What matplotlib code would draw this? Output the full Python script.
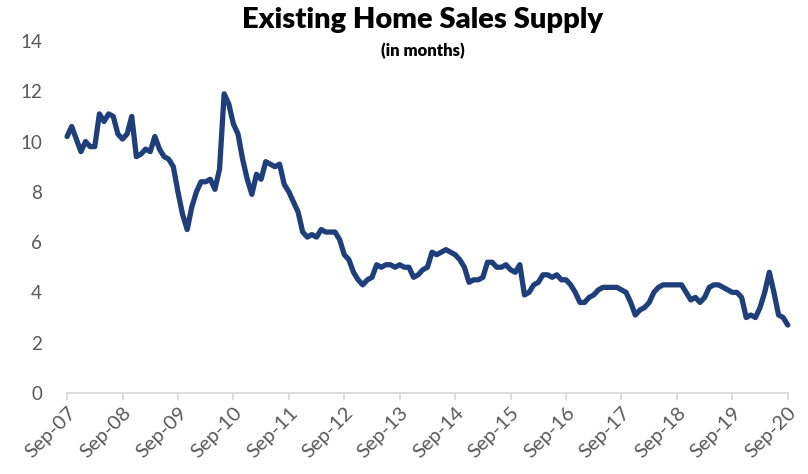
import numpy as np
import matplotlib.pyplot as plt

plt.rcParams['font.family'] = ['Lato', 'DejaVu Sans']

# monthly months-of-supply, Sep-07 .. Sep-20
supply = [
    10.2, 10.6, 10.1, 9.6, 10.0, 9.8, 9.8, 11.1, 10.8, 11.1, 11.0, 10.3,   # Sep-07..Aug-08
    10.1, 10.3, 11.0, 9.4, 9.5, 9.7, 9.6, 10.2, 9.7, 9.4, 9.3, 9.0,         # Sep-08..Aug-09
    8.0, 7.1, 6.5, 7.4, 8.0, 8.4, 8.4, 8.5, 8.1, 8.9, 11.9, 11.5,           # Sep-09..Aug-10
    10.7, 10.3, 9.3, 8.5, 7.9, 8.7, 8.5, 9.2, 9.1, 9.0, 9.1, 8.3,           # Sep-10..Aug-11
    8.0, 7.6, 7.2, 6.4, 6.2, 6.3, 6.2, 6.5, 6.4, 6.4, 6.4, 6.1,             # Sep-11..Aug-12
    5.5, 5.3, 4.8, 4.5, 4.3, 4.5, 4.6, 5.1, 5.0, 5.1, 5.1, 5.0,             # Sep-12..Aug-13
    5.1, 5.0, 5.0, 4.6, 4.7, 4.9, 5.0, 5.6, 5.5, 5.6, 5.7, 5.6,             # Sep-13..Aug-14
    5.5, 5.3, 5.0, 4.4, 4.5, 4.5, 4.6, 5.2, 5.2, 5.0, 5.0, 5.1,             # Sep-14..Aug-15
    4.9, 4.8, 5.1, 3.9, 4.0, 4.3, 4.4, 4.7, 4.7, 4.6, 4.7, 4.5,             # Sep-15..Aug-16
    4.5, 4.3, 4.0, 3.6, 3.6, 3.8, 3.9, 4.1, 4.2, 4.2, 4.2, 4.2,             # Sep-16..Aug-17
    4.1, 4.0, 3.6, 3.1, 3.3, 3.4, 3.6, 4.0, 4.2, 4.3, 4.3, 4.3,             # Sep-17..Aug-18
    4.3, 4.3, 4.0, 3.7, 3.8, 3.6, 3.8, 4.2, 4.3, 4.3, 4.2, 4.1,             # Sep-18..Aug-19
    4.0, 4.0, 3.8, 3.0, 3.1, 3.0, 3.4, 4.0, 4.8, 4.0, 3.1, 3.0,             # Sep-19..Aug-20
    2.7,                                                                    # Sep-20
]
tick_labels = ['Sep-%02d' % y for y in range(7, 21)]
yticks = [0, 2, 4, 6, 8, 10, 12, 14]

months = np.arange(len(supply))

fig = plt.figure(figsize=(8.08, 4.74), dpi=100)
ax = fig.add_axes([0.083, 0.171, 0.892, 0.7425])

ax.plot(months, supply, color='#1f3f7b', lw=3.8, solid_joinstyle='round',
        solid_capstyle='round', clip_on=False)

ax.set_xlim(0, 156)
ax.set_ylim(0, 14)
ax.set_xticks(np.arange(0, 157, 12))
ax.set_xticklabels(tick_labels, rotation=45, ha='right', rotation_mode='anchor',
                   fontsize=14.5, color='#595959')
ax.set_yticks(yticks)
ax.set_yticklabels([str(v) for v in yticks], fontsize=13.5, color='#595959')

for side in ['top', 'right', 'left']:
    ax.spines[side].set_visible(False)
ax.spines['bottom'].set_color('#d9d9d9')
ax.spines['bottom'].set_linewidth(1.3)
ax.tick_params(axis='x', length=5, width=1.3, color='#d9d9d9', pad=3)
ax.tick_params(axis='y', length=0, pad=18)

fig.text(0.523, 0.958, 'Existing Home Sales Supply', ha='center', va='center',
         fontsize=21, fontweight='heavy', color='black')
fig.text(0.523, 0.893, '(in months)', ha='center', va='center',
         fontsize=12, fontweight='heavy', color='black')

fig.savefig('out.png', dpi=100)
